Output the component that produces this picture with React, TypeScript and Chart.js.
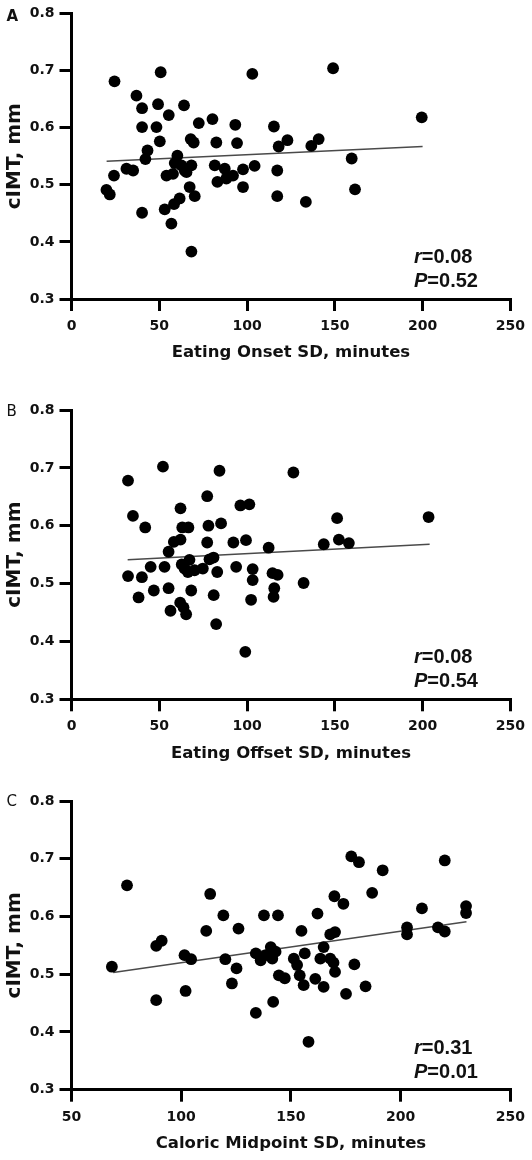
import React, { useEffect, useRef } from "react";
import { Chart, registerables } from "chart.js";

Chart.register(...registerables);

// ---------- Panel A: Eating Onset SD vs cIMT ----------
const onsetSD = [
  24.5, 50.8, 103, 149, 37.0, 40.2, 49.3, 64.1, 55.4, 40.2, 48.4, 72.5, 80.3, 93.3, 115.3, 199.5,
  50.3, 67.9, 69.6, 82.5, 94.3, 118.0, 123, 136.6, 140.8, 43.3, 42.1, 60.3, 58.8, 159.6,
  24.2, 31.3, 35.1, 19.9, 21.8, 54.1, 57.8, 62.6, 65.5, 68.3, 64.5, 81.6, 87.3, 83.1, 88.2,
  92.0, 97.7, 104.3, 117.2, 97.7, 67.3, 70.2, 61.6, 58.4, 53.1, 40.2, 56.9, 68.3, 117.2, 133.5, 161.5,
];
const onsetIMT = [
  0.681, 0.697, 0.694, 0.704, 0.656, 0.634, 0.641, 0.639, 0.622, 0.601, 0.601, 0.608, 0.615, 0.605, 0.602, 0.618,
  0.576, 0.58, 0.574, 0.574, 0.573, 0.567, 0.578, 0.568, 0.58, 0.56, 0.545, 0.551, 0.538, 0.546,
  0.516, 0.528, 0.525, 0.491, 0.483, 0.516, 0.519, 0.534, 0.522, 0.534, 0.525, 0.534, 0.528, 0.505, 0.511,
  0.516, 0.527, 0.533, 0.525, 0.496, 0.496, 0.48, 0.476, 0.466, 0.457, 0.451, 0.432, 0.383, 0.48, 0.47, 0.492,
];
const onsetFitX = [20, 200];
const onsetFitY = [0.541, 0.567];

// ---------- Panel B: Eating Offset SD vs cIMT ----------
const offsetSD = [
  32.2, 52.1, 84.3, 126.4, 77.3, 62.1, 96.2, 101.3, 35.0, 42.0, 63.1, 66.6, 78.0, 85.2, 203.4, 151.3,
  58.3, 62.1, 77.3, 92.2, 99.4, 112.3, 143.7, 152.3, 158.0, 55.3, 67.2, 62.8, 80.9, 78.6,
  45.1, 53.0, 64.4, 66.3, 70.1, 74.8, 83.0, 93.8, 103.2, 103.2, 114.5, 117.4, 32.2, 40.1,
  46.9, 55.3, 68.2, 81.0, 38.2, 102.3, 115.5, 115.1, 61.9, 63.8, 56.4, 65.3, 82.4, 99.0, 132.2,
];
const offsetIMT = [
  0.678, 0.702, 0.695, 0.692, 0.651, 0.63, 0.635, 0.637, 0.617, 0.597, 0.597, 0.597, 0.6, 0.604, 0.615, 0.613,
  0.572, 0.576, 0.571, 0.571, 0.575, 0.562, 0.568, 0.576, 0.57, 0.555, 0.541, 0.533, 0.545, 0.542,
  0.529, 0.529, 0.526, 0.52, 0.523, 0.526, 0.52, 0.529, 0.525, 0.506, 0.518, 0.515, 0.513, 0.511,
  0.488, 0.492, 0.488, 0.48, 0.476, 0.472, 0.492, 0.477, 0.467, 0.459, 0.453, 0.447, 0.43, 0.382, 0.501,
];
const offsetFitX = [32, 204];
const offsetFitY = [0.541, 0.568];

// ---------- Panel C: Caloric Midpoint SD vs cIMT ----------
const midpointSD = [
  68.4, 75.3, 88.6, 88.6, 91.1, 101.5, 104.5, 102.0, 111.4, 113.2, 119.2, 120.1, 126.1, 125.2, 123.1,
  134.0, 137.7, 144.1, 141.9, 134.0, 136.2, 138.5, 140.8, 143.0, 141.5, 144.5, 147.2, 151.3, 152.8,
  156.3, 154.0, 155.8, 154.8, 162.1, 161.1, 164.9, 163.4, 164.9, 167.9, 170.1, 167.9, 169.4, 170.1,
  169.8, 173.9, 175.1, 178.9, 184.0, 187.0, 177.5, 181.0, 191.8, 158.0, 202.9, 202.9, 209.7, 217.0,
  220.1, 220.1, 229.8, 229.8,
];
const midpointIMT = [
  0.513, 0.654, 0.455, 0.549, 0.558, 0.533, 0.526, 0.471, 0.575, 0.639, 0.602, 0.526, 0.579, 0.51, 0.484,
  0.433, 0.602, 0.602, 0.452, 0.536, 0.524, 0.533, 0.547, 0.539, 0.527, 0.498, 0.493, 0.527, 0.516,
  0.536, 0.498, 0.481, 0.575, 0.605, 0.492, 0.478, 0.527, 0.547, 0.569, 0.573, 0.527, 0.52, 0.504,
  0.635, 0.622, 0.466, 0.517, 0.479, 0.641, 0.704, 0.694, 0.68, 0.383, 0.581, 0.569, 0.614, 0.581,
  0.574, 0.697, 0.618, 0.606,
];
const midpointFitX = [69, 230];
const midpointFitY = [0.503, 0.591];

// ---------- Labels ----------
const yTitle = "cIMT, mm";
const xTitles = ["Eating Onset SD, minutes", "Eating Offset SD, minutes", "Caloric Midpoint SD, minutes"];
const panelLetters = ["A", "B", "C"];
const rValues = ["0.08", "0.08", "0.31"];
const pValues = ["0.52", "0.54", "0.01"];
const yTickStep = 0.1;
const xTickStep = 50;

type PanelCfg = {
  letter: string;
  letterWeight: string;
  letterY: number;
  xs: number[];
  ys: number[];
  fitX: number[];
  fitY: number[];
  xMin: number;
  xMax: number;
  xTitle: string;
  r: string;
  p: string;
  top: number;
  height: number;
  padTop: number;
  padBottom: number;
};

const TICK_FONT = '"DejaVu Sans"';
const STAT_FONT = '"Liberation Sans"';

const panelTextPlugin = {
  id: "panelText",
  afterDraw(chart: any, _args: any, opts: any) {
    const ctx = chart.ctx as CanvasRenderingContext2D;
    const area = chart.chartArea;
    ctx.save();
    ctx.fillStyle = "#111";
    ctx.textAlign = "left";
    ctx.textBaseline = "alphabetic";
    // panel letter
    ctx.font = `${opts.letterWeight} 15px ${TICK_FONT}`;
    ctx.fillText(opts.letter, 6.5, area.top + opts.letterY);
    // statistics
    const sx = area.left + 342.5;
    const drawStat = (ital: string, rest: string, y: number) => {
      ctx.font = `italic bold 20px ${STAT_FONT}`;
      ctx.fillText(ital, sx, y);
      const w = ctx.measureText(ital).width;
      ctx.font = `bold 20px ${STAT_FONT}`;
      ctx.fillText(rest, sx + w, y);
    };
    drawStat("r", "=" + opts.r, area.bottom - 36);
    drawStat("P", "=" + opts.p, area.bottom - 12);
    ctx.restore();
  },
};

function ScatterPanel({ cfg }: { cfg: PanelCfg }) {
  const ref = useRef<HTMLCanvasElement>(null);
  useEffect(() => {
    const points = cfg.xs.map((x, i) => ({ x, y: cfg.ys[i] }));
    const fit = cfg.fitX.map((x, i) => ({ x, y: cfg.fitY[i] }));
    const tickFont = { family: TICK_FONT, size: 14, weight: "bold" as const };
    const gridOpts = {
      display: true,
      drawOnChartArea: false,
      drawTicks: true,
      tickLength: 12,
      tickWidth: 3,
      tickColor: "#000",
      color: "#000",
      lineWidth: 3,
    };
    const chart = new Chart(ref.current as HTMLCanvasElement, {
      type: "scatter",
      data: {
        datasets: [
          {
            data: points,
            backgroundColor: "#000",
            borderColor: "#000",
            borderWidth: 0,
            pointRadius: 5.9,
            pointHoverRadius: 5.9,
            order: 0,
          },
          {
            data: fit,
            showLine: true,
            borderColor: "#4a4a4a",
            borderWidth: 1.5,
            pointRadius: 0,
            pointHoverRadius: 0,
            fill: false,
            order: 1,
          },
        ],
      },
      options: {
        responsive: false,
        animation: false,
        events: [],
        layout: { padding: { top: cfg.padTop, bottom: cfg.padBottom, left: 0, right: 19.5 } },
        plugins: {
          legend: { display: false },
          tooltip: { enabled: false },
          panelText: {
            letter: cfg.letter,
            letterWeight: cfg.letterWeight,
            letterY: cfg.letterY,
            r: cfg.r,
            p: cfg.p,
          },
        } as any,
        scales: {
          x: {
            type: "linear",
            min: cfg.xMin,
            max: cfg.xMax,
            ticks: {
              stepSize: xTickStep,
              padding: 7,
              color: "#111",
              font: tickFont,
              maxRotation: 0,
              autoSkip: false,
            },
            grid: gridOpts,
            border: { display: true, color: "#000", width: 3 },
            title: {
              display: true,
              text: cfg.xTitle,
              color: "#111",
              font: { family: TICK_FONT, size: 16.5, weight: "bold" },
              padding: { top: 0, bottom: 6 },
            },
            afterFit: (s: any) => {
              s.height = 70;
            },
          },
          y: {
            type: "linear",
            min: 0.3,
            max: 0.8,
            ticks: {
              stepSize: yTickStep,
              padding: 5,
              color: "#111",
              font: tickFont,
              callback: (v: any) => Number(v).toFixed(1),
            },
            grid: gridOpts,
            border: { display: true, color: "#000", width: 3 },
            title: {
              display: true,
              text: yTitle,
              color: "#111",
              font: { family: TICK_FONT, size: 20, weight: "bold" },
              padding: { top: 3, bottom: 0 },
            },
            afterFit: (s: any) => {
              s.width = 71.5;
            },
          },
        },
      },
      plugins: [panelTextPlugin],
    });
    return () => chart.destroy();
  }, [cfg]);
  return (
    <canvas
      ref={ref}
      width={532}
      height={cfg.height}
      style={{ position: "absolute", left: 0, top: cfg.top, width: 532, height: cfg.height }}
    />
  );
}

const panels: PanelCfg[] = [
  {
    letter: panelLetters[0], letterWeight: "bold", letterY: 7.5,
    xs: onsetSD, ys: onsetIMT, fitX: onsetFitX, fitY: onsetFitY,
    xMin: 0, xMax: 250, xTitle: xTitles[0], r: rValues[0], p: pValues[0],
    top: 0, height: 380, padTop: 12, padBottom: 11,
  },
  {
    letter: panelLetters[1], letterWeight: "normal", letterY: 5.5,
    xs: offsetSD, ys: offsetIMT, fitX: offsetFitX, fitY: offsetFitY,
    xMin: 0, xMax: 250, xTitle: xTitles[1], r: rValues[1], p: pValues[1],
    top: 380, height: 390, padTop: 30, padBottom: 0.7,
  },
  {
    letter: panelLetters[2], letterWeight: "normal", letterY: 4.5,
    xs: midpointSD, ys: midpointIMT, fitX: midpointFitX, fitY: midpointFitY,
    xMin: 50, xMax: 250, xTitle: xTitles[2], r: rValues[2], p: pValues[2],
    top: 770, height: 390, padTop: 31, padBottom: 0.3,
  },
];

export default function App() {
  return (
    <div style={{ position: "absolute", left: 0, top: 0, width: 532, height: 1160, background: "#fff", overflow: "hidden" }}>
      {panels.map((p) => (
        <ScatterPanel key={p.letter} cfg={p} />
      ))}
    </div>
  );
}
